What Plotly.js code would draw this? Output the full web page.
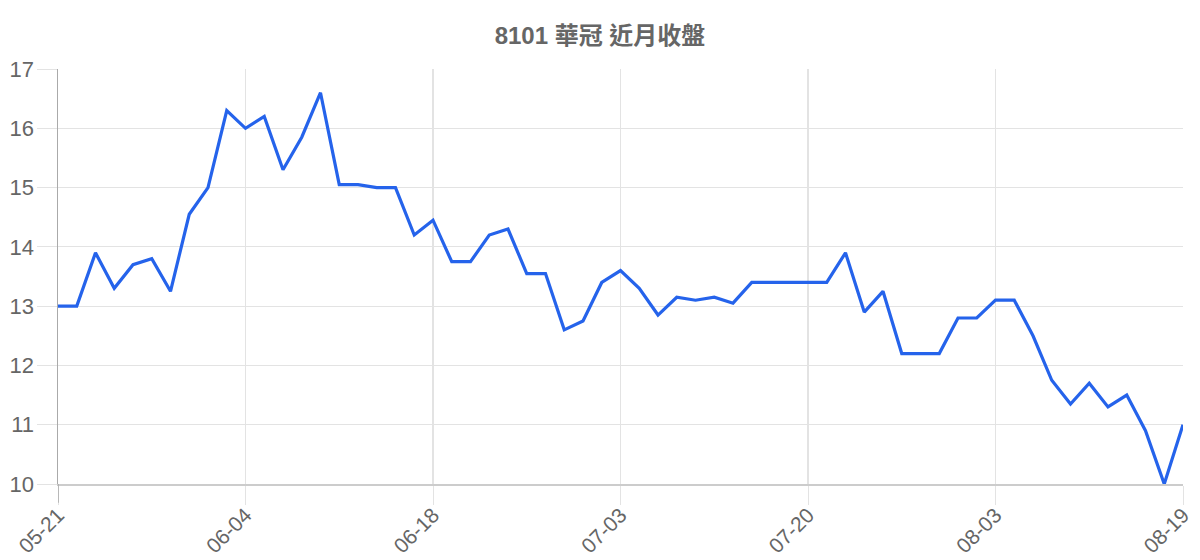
<!DOCTYPE html>
<html>
<head>
<meta charset="utf-8">
<script src="https://cdn.plot.ly/plotly-3.0.1.min.js"></script>
<style>
  html, body { margin: 0; padding: 0; background: #fff; }
  #chart { width: 1200px; height: 560px; }
</style>
</head>
<body>
<div id="chart"></div>
<script>
// trading days (MM-DD)
let dates = [
    "05-21", "05-22", "05-23", "05-24", "05-27", "05-28", "05-29", "05-30", "05-31", "06-03",
    "06-04", "06-05", "06-06", "06-07", "06-10", "06-11", "06-12", "06-13", "06-14", "06-17",
    "06-18", "06-19", "06-20", "06-21", "06-24", "06-25", "06-26", "06-27", "06-28", "07-02",
    "07-03", "07-04", "07-05", "07-08", "07-09", "07-10", "07-11", "07-12", "07-15", "07-18",
    "07-20", "07-22", "07-23", "07-24", "07-26", "07-29", "07-30", "07-31", "08-01", "08-02",
    "08-03", "08-05", "08-06", "08-07", "08-08", "08-09", "08-12", "08-13", "08-14", "08-16",
    "08-19"
];
// closing prices
let closes = [
    13.0, 13.0, 13.9, 13.3, 13.7, 13.8, 13.25, 14.55, 15.0, 16.3,
    16.0, 16.2, 15.3, 15.85, 16.6, 15.05, 15.05, 15.0, 15.0, 14.2,
    14.45, 13.75, 13.75, 14.2, 14.3, 13.55, 13.55, 12.6, 12.75, 13.4,
    13.6, 13.3, 12.85, 13.15, 13.1, 13.15, 13.05, 13.4, 13.4, 13.4,
    13.4, 13.4, 13.9, 12.9, 13.25, 12.2, 12.2, 12.2, 12.8, 12.8,
    13.1, 13.1, 12.5, 11.75, 11.35, 11.7, 11.3, 11.5, 10.9, 10.0,
    11.0
];
let tick_dates = ["05-21", "06-04", "06-18", "07-03", "07-20", "08-03", "08-19"];
let y_ticks = [10, 11, 12, 13, 14, 15, 16, 17];

let trace = {
    x: dates,
    y: closes,
    type: "scatter",
    mode: "lines",
    line: { color: "#2563eb", width: 3.2 },
    hoverinfo: "x+y"
};

let layout = {
    width: 1200,
    height: 560,
    margin: { l: 58, r: 17, t: 69, b: 76 },
    paper_bgcolor: "#fff",
    plot_bgcolor: "#fff",
    showlegend: false,
    font: { family: "Liberation Sans, Arial, sans-serif", color: "#666" },
    title: {
        text: "<b>8101 華冠 近月收盤</b>",
        font: { family: "Liberation Sans, Noto Sans CJK TC, sans-serif", size: 24, color: "#666" },
        x: 0.5,
        xanchor: "center",
        y: 0.937,
        yanchor: "middle"
    },
    xaxis: {
        type: "category",
        range: [0, dates.length - 1],
        tickmode: "array",
        tickvals: tick_dates,
        ticktext: tick_dates,
        tickangle: -45,
        ticks: "outside",
        ticklen: 19,
        tickcolor: "#e3e3e3",
        ticklabelstandoff: -10,
        tickfont: { size: 21, color: "#666" },
        showgrid: true,
        gridcolor: "#e3e3e3",
        gridwidth: 1.2,
        zeroline: false,
        showline: true,
        linecolor: "#cccccc",
        linewidth: 1.5,
        fixedrange: true
    },
    yaxis: {
        range: [10, 17],
        tickmode: "array",
        tickvals: y_ticks,
        ticks: "outside",
        ticklen: 20,
        tickcolor: "#e3e3e3",
        ticklabelstandoff: -2,
        tickfont: { size: 22, color: "#666" },
        showgrid: true,
        gridcolor: "#e3e3e3",
        gridwidth: 1.2,
        zeroline: false,
        showline: true,
        linecolor: "#aaaaaa",
        linewidth: 1.5,
        fixedrange: true
    },
    shapes: [{
        // left axis line runs down through the tick area
        type: "line", xref: "x", yref: "paper",
        x0: dates[0], x1: dates[0], y0: -0.045, y1: 0,
        line: { color: "#aaaaaa", width: 1.5 }
    }]
};

Plotly.newPlot("chart", [trace], layout, { displayModeBar: false, staticPlot: true });
</script>
</body>
</html>
